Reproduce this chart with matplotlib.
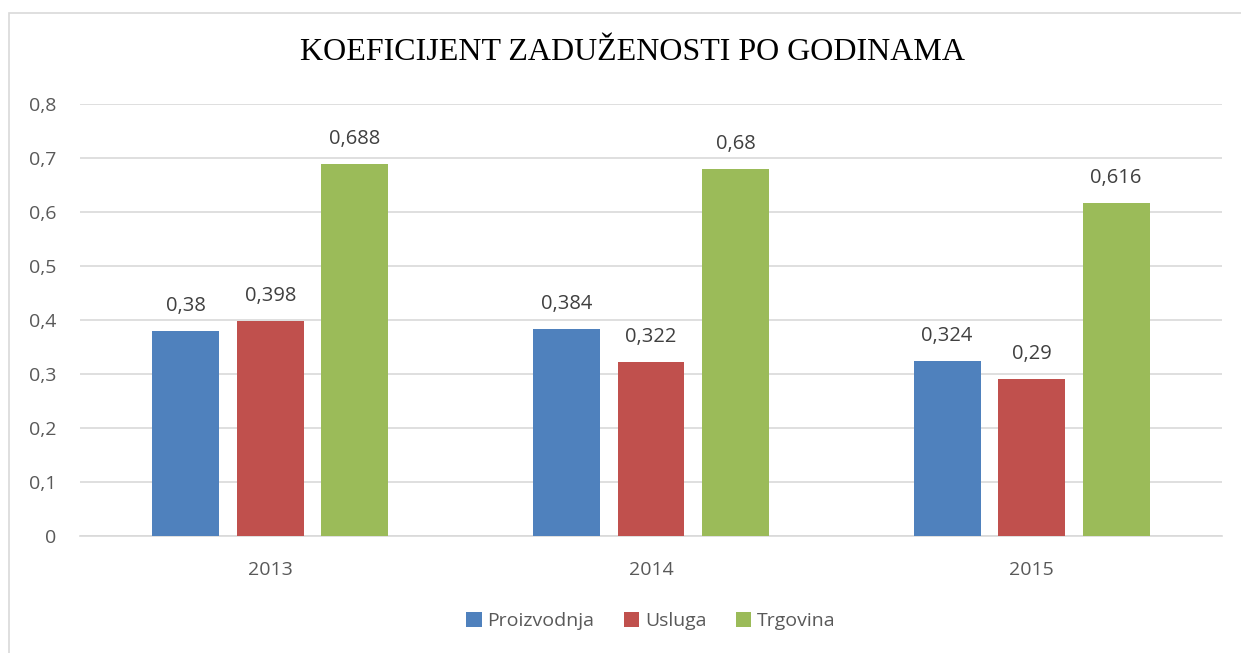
import matplotlib.pyplot as plt
import numpy as np
from matplotlib.patches import Rectangle

years = ["2013", "2014", "2015"]
series = ["Proizvodnja", "Usluga", "Trgovina"]
proizvodnja = [0.38, 0.384, 0.324]
usluga = [0.398, 0.322, 0.29]
trgovina = [0.688, 0.68, 0.616]
colors = ["#4F81BD", "#C0504D", "#9BBB59"]

plt.rcParams['font.family'] = ['Open Sans', 'DejaVu Sans']

fig = plt.figure(figsize=(12.41, 6.53), dpi=100)
ax = fig.add_axes([80 / 1241, 1 - 536 / 653, (1222 - 80) / 1241, (536 - 104) / 653])

# outer chart border (only left/top visible in the reference)
fig.patches.append(Rectangle((9 / 1241, -0.1), 1.2, 1 - 13 / 653 + 0.1,
                             transform=fig.transFigure, fill=False,
                             edgecolor="#D9D9D9", linewidth=1.2))

x = np.arange(len(years))
w = 0.176
pitch = 0.222
for i, (name, vals) in enumerate(zip(series, [proizvodnja, usluga, trgovina])):
    pos = x + (i - 1) * pitch
    ax.bar(pos, vals, width=w, color=colors[i], label=name, zorder=3)
    for px, v in zip(pos, vals):
        ax.text(px, v + 0.028, f"{v:g}".replace(".", ","), ha="center", va="bottom",
                fontsize=14.5, color="#404040")

ax.set_xlim(-0.5, 2.5)
ax.set_ylim(0, 0.8)
ax.set_xticks(x)
ax.set_xticklabels(years)
yt = np.round(np.arange(0, 0.81, 0.1), 1)
ax.set_yticks(yt)
ax.set_yticklabels([f"{v:g}".replace(".", ",") for v in yt])
ax.tick_params(length=0, labelsize=14, colors="#595959")
ax.tick_params(axis="x", pad=18)
ax.tick_params(axis="y", pad=17)
ax.grid(axis="y", color="#D9D9D9", linewidth=1.2, zorder=0)
for s in ["left", "right", "top"]:
    ax.spines[s].set_visible(False)
ax.spines["bottom"].set_color("#D9D9D9")
ax.spines["bottom"].set_linewidth(1.2)

fig.text(632 / 1241, 1 - 52 / 653, "KOEFICIJENT ZADUŽENOSTI PO GODINAMA",
         ha="center", va="center", fontsize=23, family="Liberation Serif", color="black")

ax.legend(loc="center", bbox_to_anchor=(0.5, (536 - 621) / (536 - 104)), ncol=3,
          frameon=False, fontsize=14, handlelength=0.8, handleheight=0.8,
          handletextpad=0.3, columnspacing=1.5, labelcolor="#595959")

fig.savefig("out.png", dpi=100)
